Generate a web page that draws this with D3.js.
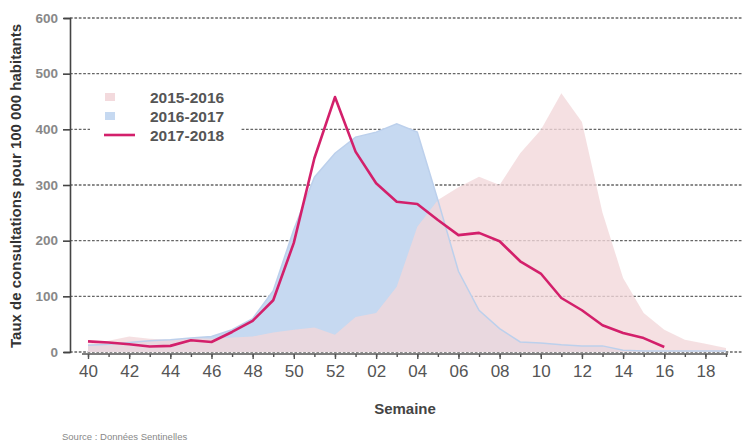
<!DOCTYPE html>
<html>
<head>
<meta charset="utf-8">
<script src="https://cdn.jsdelivr.net/npm/d3@7"></script>
<style>
  body { margin: 0; background: #fff; }
  svg { display: block; font-family: "Liberation Sans", Arial, sans-serif; }
</style>
</head>
<body>
<svg width="743" height="442"></svg>
<script>
// weeks of the flu season, 40 to 19
const weeks = ["40","41","42","43","44","45","46","47","48","49","50","51","52",
  "01","02","03","04","05","06","07","08","09","10","11","12","13","14","15","16","17","18","19"]
const tickWeeks = ["40","42","44","46","48","50","52","02","04","06","08","10","12","14","16","18"]
const yTicks = [0, 100, 200, 300, 400, 500, 600]

// consultation rates per 100 000
const s1516 = [15,20,28,24,22,25,24,26,28,35,40,44,31,63,70,117,225,273,296,315,300,357,399,465,413,250,133,70,40,22,15,7]
const s1617 = [12,14,17,20,22,25,28,40,60,110,220,314,357,386,395,410,395,273,145,75,42,18,16,13,11,11,3,2,2,2,2,2]
const s1718 = [19,17,14,10,11,21,18,36,56,93,196,348,458,360,303,270,266,237,210,214,199,163,141,97,75,48,34,25,9,null,null,null]

const seriesNames = ["2015-2016", "2016-2017", "2017-2018"]

const svg = d3.select("svg")

const scaleX = d3.scalePoint()
  .domain(weeks)
  .range([88, 726])

const scaleY = d3.scaleLinear()
  .domain([0, 600])
  .range([352, 18])

// dotted grid lines
svg.append("g")
  .selectAll("line")
  .data(yTicks)
  .join("line")
  .attr("x1", 70)
  .attr("x2", 743)
  .attr("y1", d => scaleY(d))
  .attr("y2", d => scaleY(d))
  .attr("stroke", "#666")
  .attr("stroke-width", 1.3)
  .attr("stroke-dasharray", "2.7,1.7")

const area = d3.area()
  .x((d, i) => scaleX(weeks[i]))
  .y0(scaleY(0))
  .y1(d => scaleY(d))

const topLine = d3.line()
  .x((d, i) => scaleX(weeks[i]))
  .y(d => scaleY(d))

// 2016-2017 blue area
svg.append("path")
  .attr("d", area(s1617))
  .attr("fill", "#c6d9f1")

// 2015-2016 pink area
svg.append("path")
  .attr("d", area(s1516))
  .attr("fill", "#f2d7da")
  .attr("fill-opacity", 0.78)

// light outline of the blue season
svg.append("path")
  .attr("d", topLine(s1617))
  .attr("fill", "none")
  .attr("stroke", "#bcd0ec")
  .attr("stroke-width", 1.5)

// 2017-2018 line
const redLine = d3.line()
  .defined(d => d !== null)
  .x((d, i) => scaleX(weeks[i]))
  .y(d => scaleY(d))

svg.append("path")
  .attr("d", redLine(s1718))
  .attr("fill", "none")
  .attr("stroke", "#d3206b")
  .attr("stroke-width", 2.6)
  .attr("stroke-linejoin", "round")

// y axis
const axisY = d3.axisLeft(scaleY)
  .tickValues(yTicks)
  .tickSizeInner(7)
  .tickSizeOuter(6)
  .tickPadding(5)

const axisYGroup = svg.append("g")
  .attr("transform", "translate(70,0)")
  .call(axisY)
axisYGroup.selectAll("path, line").attr("stroke", "#444").attr("stroke-width", 1.6)
axisYGroup.selectAll("text")
  .attr("font-size", 13.5)
  .attr("font-weight", "bold")
  .attr("fill", "#888")
  .attr("font-family", "Liberation Sans, Arial, sans-serif")

// x axis: minor ticks every week, labels every two weeks
const axisXGroup = svg.append("g")
  .attr("transform", "translate(0,354)")

axisXGroup.call(d3.axisBottom(scaleX)
  .tickValues(weeks)
  .tickSizeInner(3)
  .tickSizeOuter(0)
  .tickFormat(""))

const axisXMajor = svg.append("g")
  .attr("transform", "translate(0,354)")
  .call(d3.axisBottom(scaleX)
    .tickValues(tickWeeks)
    .tickSizeInner(5)
    .tickSizeOuter(0)
    .tickPadding(6))
axisXMajor.select("path").remove()

axisXGroup.select("path.domain").attr("d", "M82,0H728")
axisXGroup.selectAll("path, line").attr("stroke", "#555").attr("stroke-width", 1.4)
axisXMajor.selectAll("line").attr("stroke", "#555").attr("stroke-width", 1.4)
axisXMajor.selectAll("text")
  .attr("font-size", 17)
  .attr("fill", "#555")
  .attr("font-family", "Liberation Sans, Arial, sans-serif")

// axis titles
svg.append("text")
  .attr("transform", "translate(21,186) rotate(-90)")
  .attr("text-anchor", "middle")
  .attr("font-size", 15)
  .attr("font-weight", "bold")
  .attr("fill", "#333")
  .text("Taux de consultations pour 100 000 habitants")

svg.append("text")
  .attr("x", 405)
  .attr("y", 414)
  .attr("text-anchor", "middle")
  .attr("font-size", 15)
  .attr("font-weight", "bold")
  .attr("fill", "#444")
  .text("Semaine")

svg.append("text")
  .attr("x", 62)
  .attr("y", 440)
  .attr("font-size", 9.5)
  .attr("fill", "#888")
  .text("Source : Données Sentinelles")

// legend with white background
const legend = svg.append("g")
legend.append("rect")
  .attr("x", 90).attr("y", 82)
  .attr("width", 150).attr("height", 64)
  .attr("fill", "#fff")

const legendY = [97, 116, 135]
legend.append("rect")
  .attr("x", 105).attr("y", legendY[0] - 4)
  .attr("width", 10).attr("height", 8)
  .attr("fill", "#f3dadd")
legend.append("rect")
  .attr("x", 105).attr("y", legendY[1] - 4)
  .attr("width", 10).attr("height", 8)
  .attr("fill", "#c6d9f1")
legend.append("line")
  .attr("x1", 104).attr("x2", 135)
  .attr("y1", legendY[2]).attr("y2", legendY[2])
  .attr("stroke", "#d3206b")
  .attr("stroke-width", 2.6)

legend.selectAll("text")
  .data(seriesNames)
  .join("text")
  .attr("x", 150)
  .attr("y", (d, i) => legendY[i])
  .attr("dy", "0.36em")
  .attr("font-size", 15.5)
  .attr("font-weight", "bold")
  .attr("fill", "#555")
  .text(d => d)
</script>
</body>
</html>
